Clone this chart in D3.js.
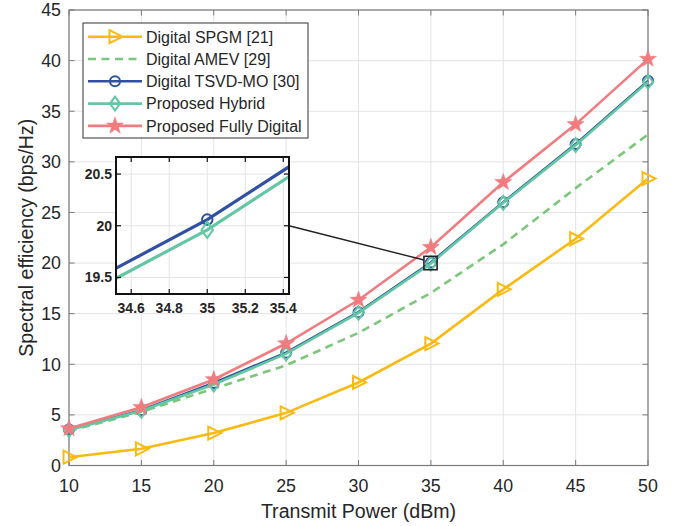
<!DOCTYPE html>
<html><head><meta charset="utf-8">
<script src="https://cdn.jsdelivr.net/npm/d3@7"></script>
<style>body{margin:0;background:#fff} text{font-family:"Liberation Sans",Arial,Helvetica,sans-serif;fill:#262626}</style>
</head><body><svg id="c" width="682" height="526"></svg>
<script>
// ---- data ----
const powers = [10, 15, 20, 25, 30, 35, 40, 45, 50];
const xTicks = [10, 15, 20, 25, 30, 35, 40, 45, 50];
const yTicks = [0, 5, 10, 15, 20, 25, 30, 35, 40, 45];
const insetXTicks = [34.6, 34.8, 35, 35.2, 35.4];
const insetYTicks = [19.5, 20, 20.5];
const seriesNames = ["Digital SPGM [21]", "Digital AMEV [29]", "Digital TSVD-MO [30]", "Proposed Hybrid", "Proposed Fully Digital"];
const spgm   = [0.82, 1.65, 3.2, 5.2, 8.2, 12.05, 17.4, 22.4, 28.35];
const amev   = [3.4, 5.3, 7.6, 9.9, 13.1, 17.05, 21.85, 27.4, 32.7];
const tsvd   = [3.55, 5.45, 8.15, 11.15, 15.15, 20.06, 26.0, 31.75, 38.0];
const hybrid = [3.5, 5.4, 8.0, 11.05, 15.08, 19.96, 25.95, 31.65, 37.9];
const fully  = [3.65, 5.75, 8.5, 12.05, 16.35, 21.56, 27.98, 33.7, 40.15];

const colors = ["#FBBA12", "#7CC67C", "#3050A2", "#62C7A2", "#F07C80"];
const markers = ["tri", null, "circle", "diamond", "star"];
const allSeries = [spgm, amev, tsvd, hybrid, fully];

const svg = d3.select("#c");
const W = 682, H = 526;
const x = d3.scaleLinear().domain([10, 50]).range([69, 648]);
const y = d3.scaleLinear().domain([0, 45]).range([465.5, 10]);

function markerPath(type) {
  if (type === "tri") return "M-5.5,-6.5L7.5,0L-5.5,6.5Z";
  if (type === "diamond") return "M0,-7L5,0L0,7L-5,0Z";
  if (type === "circle") return d3.symbol(d3.symbolCircle, Math.PI * 25)();
  if (type === "star") {
    let p = [];
    for (let i = 0; i < 10; i++) {
      const r = i % 2 === 0 ? 9 : 3.6;
      const a = -Math.PI / 2 + i * Math.PI / 5;
      p.push([r * Math.cos(a), r * Math.sin(a)]);
    }
    return "M" + p.map(d => d.join(",")).join("L") + "Z";
  }
  return null;
}

function drawMarker(g, type, cx, cy, col, scale = 1) {
  const filled = type === "star";
  g.append("path").attr("d", markerPath(type))
    .attr("transform", `translate(${cx},${cy}) scale(${scale})`)
    .attr("fill", filled ? col : "none")
    .attr("stroke", col).attr("stroke-width", filled ? 0.5 : 2 / scale);
}

// grid
const grid = svg.append("g");
xTicks.forEach(t => grid.append("line").attr("x1", x(t)).attr("x2", x(t)).attr("y1", y(45)).attr("y2", y(0)).attr("stroke", "#e4e4e4").attr("stroke-width", 1));
yTicks.forEach(t => grid.append("line").attr("x1", x(10)).attr("x2", x(50)).attr("y1", y(t)).attr("y2", y(t)).attr("stroke", "#e4e4e4").attr("stroke-width", 1));

// box + ticks
const axc = "#7a7a7a";
svg.append("rect").attr("x", x(10)).attr("y", y(45)).attr("width", x(50) - x(10)).attr("height", y(0) - y(45))
  .attr("fill", "none").attr("stroke", axc).attr("stroke-width", 1.2);
const tk = svg.append("g").attr("stroke", axc).attr("stroke-width", 1);
xTicks.forEach(t => {
  tk.append("line").attr("x1", x(t)).attr("x2", x(t)).attr("y1", y(0)).attr("y2", y(0) - 5.5);
  tk.append("line").attr("x1", x(t)).attr("x2", x(t)).attr("y1", y(45)).attr("y2", y(45) + 5.5);
});
yTicks.forEach(t => {
  tk.append("line").attr("x1", x(10)).attr("x2", x(10) + 5.5).attr("y1", y(t)).attr("y2", y(t));
  tk.append("line").attr("x1", x(50)).attr("x2", x(50) - 5.5).attr("y1", y(t)).attr("y2", y(t));
});
xTicks.forEach(t => svg.append("text").attr("x", x(t)).attr("y", y(0) + 26).attr("text-anchor", "middle").attr("font-size", 17.8).text(t));
yTicks.forEach(t => svg.append("text").attr("x", x(10) - 8).attr("y", y(t) + 6.3).attr("text-anchor", "end").attr("font-size", 17.8).text(t));
svg.append("text").attr("x", (x(10) + x(50)) / 2).attr("y", 518).attr("text-anchor", "middle").attr("font-size", 19.6).text("Transmit Power (dBm)");
svg.append("text").attr("transform", `translate(33,${(y(0) + y(45)) / 2}) rotate(-90)`).attr("text-anchor", "middle").attr("font-size", 19.6).text("Spectral efficiency (bps/Hz)");

// series
const line = d3.line().x((d, i) => x(powers[i])).y(d => y(d));
allSeries.forEach((s, k) => {
  svg.append("path").attr("d", line(s)).attr("fill", "none").attr("stroke", colors[k]).attr("stroke-width", 2.6)
    .attr("stroke-dasharray", k === 1 ? "8,5.5" : null);
  if (markers[k]) {
    const g = svg.append("g");
    s.forEach((v, i) => drawMarker(g, markers[k], x(powers[i]), y(v), colors[k]));
  }
});

// inset
const ix = d3.scaleLinear().domain([34.52, 35.43]).range([116, 289]);
const iy = d3.scaleLinear().domain([19.34, 20.665]).range([294, 157]);
// zoom rectangle and connector
svg.append("rect").attr("x", x(34.52)).attr("y", y(20.665)).attr("width", x(35.43) - x(34.52)).attr("height", y(19.34) - y(20.665))
  .attr("fill", "none").attr("stroke", "#222").attr("stroke-width", 1.6);
svg.append("line").attr("x1", ix(35.43)).attr("y1", iy(20.0)).attr("x2", x(34.52)).attr("y2", y(20.3)).attr("stroke", "#222").attr("stroke-width", 1.4);

const ins = svg.append("g");
ins.append("rect").attr("x", 116).attr("y", 157).attr("width", 173).attr("height", 137).attr("fill", "#fff");
const clipId = "insclip";
svg.append("defs").append("clipPath").attr("id", clipId).append("rect").attr("x", 116).attr("y", 157).attr("width", 173).attr("height", 137);
insetXTicks.forEach(t => ins.append("line").attr("x1", ix(t)).attr("x2", ix(t)).attr("y1", 157).attr("y2", 294).attr("stroke", "#e4e4e4"));
insetYTicks.forEach(t => ins.append("line").attr("x1", 116).attr("x2", 289).attr("y1", iy(t)).attr("y2", iy(t)).attr("stroke", "#e4e4e4"));
const iline = d3.line().x((d, i) => ix(powers[i])).y(d => iy(d));
const ic = ins.append("g").attr("clip-path", `url(#${clipId})`);
[[tsvd, 2], [hybrid, 3]].forEach(([s, k]) => {
  ic.append("path").attr("d", iline(s)).attr("fill", "none").attr("stroke", colors[k]).attr("stroke-width", 3.2);
});
[[tsvd, 2], [hybrid, 3]].forEach(([s, k]) => {
  drawMarker(ins, markers[k], ix(35), iy(s[5]), colors[k], k === 3 ? 1.15 : 1.05);
});
const itk = ins.append("g").attr("stroke", "#111").attr("stroke-width", 1.2);
insetXTicks.forEach(t => {
  itk.append("line").attr("x1", ix(t)).attr("x2", ix(t)).attr("y1", 294).attr("y2", 289);
  itk.append("line").attr("x1", ix(t)).attr("x2", ix(t)).attr("y1", 157).attr("y2", 162);
});
insetYTicks.forEach(t => {
  itk.append("line").attr("x1", 116).attr("x2", 121).attr("y1", iy(t)).attr("y2", iy(t));
  itk.append("line").attr("x1", 289).attr("x2", 284).attr("y1", iy(t)).attr("y2", iy(t));
});
ins.append("rect").attr("x", 116).attr("y", 157).attr("width", 173).attr("height", 137).attr("fill", "none").attr("stroke", "#111").attr("stroke-width", 2);
insetXTicks.forEach(t => ins.append("text").attr("x", ix(t)).attr("y", 313).attr("text-anchor", "middle").attr("font-size", 14).attr("font-weight", "bold").attr("fill", "#111").text(t));
insetYTicks.forEach(t => ins.append("text").attr("x", 112).attr("y", iy(t) + 5).attr("text-anchor", "end").attr("font-size", 14).attr("font-weight", "bold").attr("fill", "#111").text(t));

// legend
const lg = svg.append("g");
lg.append("rect").attr("x", 83).attr("y", 23).attr("width", 225).attr("height", 115).attr("fill", "#fff").attr("stroke", "#333").attr("stroke-width", 1);
seriesNames.forEach((n, k) => {
  const ly = 36.7 + k * 22.3;
  lg.append("line").attr("x1", 88).attr("x2", 142).attr("y1", ly).attr("y2", ly).attr("stroke", colors[k]).attr("stroke-width", 2.6)
    .attr("stroke-dasharray", k === 1 ? "8,5.5" : null);
  if (markers[k]) drawMarker(lg, markers[k], 115, ly, colors[k]);
  lg.append("text").attr("x", 146).attr("y", ly + 5.8).attr("font-size", 16).text(n);
});
</script></body></html>
